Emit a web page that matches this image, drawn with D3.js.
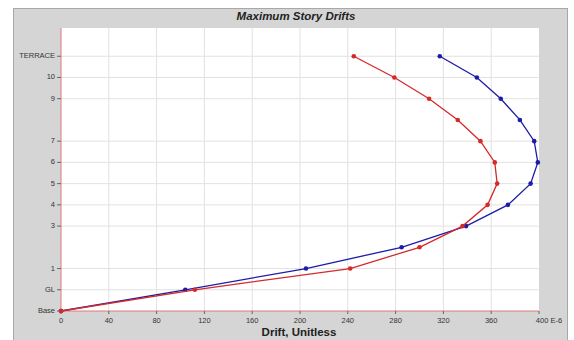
<!DOCTYPE html>
<html>
<head>
<meta charset="UTF-8">
<style>
    body { margin: 0; background: #fff; }
    text { font-family: "Liberation Sans", Arial, sans-serif; }
    .tick-lbl { font-size: 7.5px; fill: #333; }
</style>
</head>
<body>
<svg id="svg" width="574" height="340"></svg>
<script src="https://d3js.org/d3.v7.min.js"></script>
<script>
    // story levels, bottom to top
    const stories = ["Base", "GL", "1", "2", "3", "4", "5", "6", "7", "8", "9", "10", "TERRACE"];
    const shownLabels = ["Base", "GL", "1", "3", "4", "5", "6", "7", "9", "10", "TERRACE"];
    // drift values (E-6)
    const driftRed = [0, 112, 242, 300, 336, 357, 365, 363, 351, 332, 308, 279, 245];
    const driftBlue = [0, 104, 205, 285, 339, 374, 393, 399, 396, 384, 368, 348, 317];
    const xTicks = [0, 40, 80, 120, 160, 200, 240, 280, 320, 360, 400];

    var svg = d3.select("#svg");
    var pL = 61, pR = 539, pT = 28, pB = 311;

    // gray panel
    svg.append("rect").attr("x", 13.5).attr("y", 8.5).attr("width", 554).attr("height", 340)
        .attr("fill", "#d5d5d5").attr("stroke", "#a8a8a8").attr("stroke-width", 1);
    svg.append("rect").attr("x", pL).attr("y", pT).attr("width", pR - pL).attr("height", pB - pT)
        .attr("fill", "#fff");

    var x = d3.scaleLinear().domain([0, 400]).range([pL, pR]);
    var y = d3.scaleLinear().domain([0, 13.33]).range([pB, pT]);

    // grid
    var g = svg.append("g");
    xTicks.slice(1, -1).forEach(function (t) {
        g.append("line").attr("x1", x(t)).attr("x2", x(t)).attr("y1", pT).attr("y2", pB)
            .attr("stroke", "#e2e2e2").attr("stroke-width", 1);
    });
    shownLabels.slice(1).forEach(function (s) {
        var yy = y(stories.indexOf(s));
        g.append("line").attr("x1", pL).attr("x2", pR).attr("y1", yy).attr("y2", yy)
            .attr("stroke", "#e2e2e2").attr("stroke-width", 1);
    });

    // axes
    svg.append("line").attr("x1", pL).attr("x2", pL).attr("y1", pT).attr("y2", pB)
        .attr("stroke", "#e07a7a").attr("stroke-width", 1);
    svg.append("line").attr("x1", pL).attr("x2", pR).attr("y1", pB).attr("y2", pB)
        .attr("stroke", "#e07a7a").attr("stroke-width", 1);

    shownLabels.forEach(function (s) {
        var yy = y(stories.indexOf(s));
        svg.append("line").attr("x1", pL - 4).attr("x2", pL).attr("y1", yy).attr("y2", yy).attr("stroke", "#666");
        svg.append("text").attr("class", "tick-lbl").attr("x", pL - 6).attr("y", yy)
            .attr("text-anchor", "end").attr("dominant-baseline", "middle").text(s);
    });
    xTicks.forEach(function (t) {
        svg.append("line").attr("x1", x(t)).attr("x2", x(t)).attr("y1", pB).attr("y2", pB + 3).attr("stroke", "#666");
        svg.append("text").attr("class", "tick-lbl").attr("x", x(t)).attr("y", pB + 10)
            .attr("text-anchor", "middle").attr("dominant-baseline", "middle").text(t == 400 ? "400 E-6" : t)
            .attr("dx", t == 400 ? 10 : 0);
    });

    // titles
    svg.append("text").attr("x", 296).attr("y", 20).attr("text-anchor", "middle")
        .style("font-size", "11.5px").style("font-weight", "bold").style("font-style", "italic").attr("fill", "#222")
        .text("Maximum Story Drifts");
    svg.append("text").attr("x", 299).attr("y", 336).attr("text-anchor", "middle")
        .style("font-size", "11.5px").style("font-weight", "bold").attr("fill", "#222")
        .text("Drift, Unitless");

    // series
    var line = d3.line().x(function (d) { return x(d[0]); }).y(function (d) { return y(d[1]); });
    [[driftBlue, "#1c1ca8"], [driftRed, "#d42a2a"]].forEach(function (s) {
        var pts = s[0].map(function (v, i) { return [v, i]; });
        svg.append("path").attr("d", line(pts)).attr("fill", "none").attr("stroke", s[1]).attr("stroke-width", 1.3);
        svg.selectAll(null).data(pts).enter().append("circle")
            .attr("cx", function (d) { return x(d[0]); }).attr("cy", function (d) { return y(d[1]); })
            .attr("r", 2.3).attr("fill", s[1]);
    });
</script>
</body>
</html>
